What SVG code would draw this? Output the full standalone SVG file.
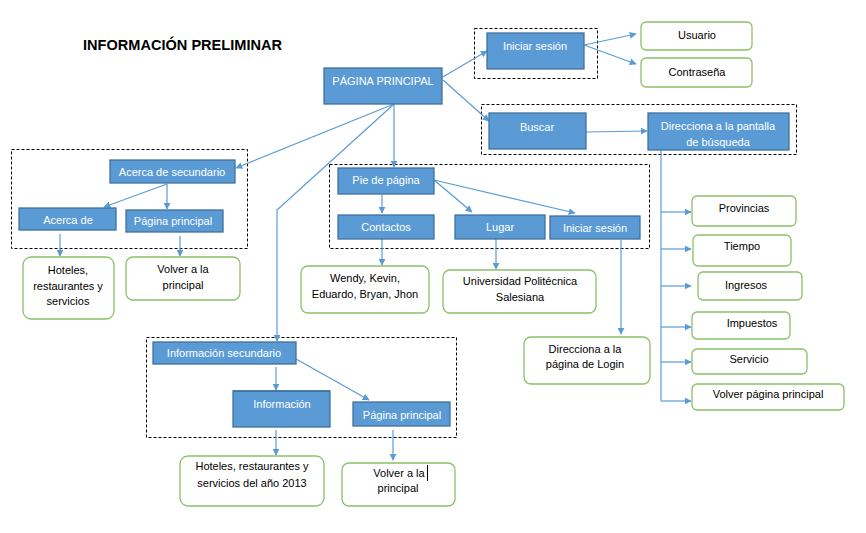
<svg xmlns="http://www.w3.org/2000/svg" width="866" height="533" viewBox="0 0 866 533">
<defs>
<marker id="ah" viewBox="0 0 10 10" refX="9" refY="5" markerWidth="7" markerHeight="7" markerUnits="userSpaceOnUse" orient="auto">
<path d="M0,0 L10,5 L0,10 z" fill="#5B9BD5"/>
</marker>
<style>
.b{fill:#5B9BD5;stroke:#41719C;stroke-width:1.3}
.g{fill:#fff;stroke:#8CC168;stroke-width:1.3}
.d{fill:none;stroke:#000;stroke-width:1;stroke-dasharray:3 2}
.w{fill:#fff;font-family:"Liberation Sans",Arial,sans-serif;font-size:11px;text-anchor:middle;dominant-baseline:central}
.k{fill:#000;font-family:"Liberation Sans",Arial,sans-serif;font-size:11px;text-anchor:middle;dominant-baseline:central}
.c{fill:none;stroke:#5B9BD5;stroke-width:1.2;marker-end:url(#ah)}
.c0{fill:none;stroke:#5B9BD5;stroke-width:1.2}
</style>
</defs>
<rect width="866" height="533" fill="#fff"/>
<text x="83" y="50" font-family="'Liberation Sans',Arial,sans-serif" font-size="15" font-weight="bold" textLength="199" lengthAdjust="spacingAndGlyphs">INFORMACIÓN PRELIMINAR</text>

<g id="groups">
<rect class="d" x="474.5" y="28.5" width="123" height="50"/>
<rect class="d" x="481.5" y="104.5" width="315" height="50"/>
<rect class="d" x="11.5" y="149.5" width="236" height="99"/>
<rect class="d" x="329.5" y="164.5" width="320" height="84"/>
<rect class="d" x="146.5" y="337.5" width="310" height="100"/>
</g>

<g id="connectors">
<path class="c" d="M441,78 L487,51"/>
<path class="c" d="M443,80 L489,121"/>
<path class="c" d="M584,45 L636,34"/>
<path class="c" d="M584,45 L636,64"/>
<path class="c" d="M586,132 L647,131"/>
<path class="c0" d="M661,150 L661,401"/>
<path class="c" d="M661,212 L691,212"/>
<path class="c" d="M661,249 L691,249"/>
<path class="c" d="M661,286 L691,286"/>
<path class="c" d="M661,327 L691,327"/>
<path class="c" d="M661,362 L691,362"/>
<path class="c" d="M661,401 L691,401"/>
<path class="c" d="M394,104 L236,168"/>
<path class="c" d="M394,104 L394,167"/>
<path class="c" d="M394,104 L277,210 L277,341"/>
<path class="c" d="M167,184 L104,207"/>
<path class="c" d="M167,184 L167,209"/>
<path class="c" d="M60,234 L60,256"/>
<path class="c" d="M180,236 L180,256"/>
<path class="c" d="M382,195 L382,213"/>
<path class="c" d="M434,180 L472,212"/>
<path class="c" d="M434,180 L575,213"/>
<path class="c" d="M382,239 L382,265"/>
<path class="c" d="M496,239 L496,269"/>
<path class="c" d="M621,240 L621,334"/>
<path class="c" d="M276,367 L276,390"/>
<path class="c" d="M296,359 L369,400"/>
<path class="c" d="M276,430 L276,455"/>
<path class="c" d="M393,430 L393,460"/>
</g>

<g id="pagina-principal"><rect class="b" x="324" y="68" width="118" height="36"/><text class="w" x="383" y="81">PÁGINA PRINCIPAL</text></g>
<g id="iniciar-sesion"><rect class="b" x="487" y="33" width="97" height="36"/><text class="w" x="535" y="46">Iniciar sesión</text></g>
<g id="usuario"><rect class="g" x="641" y="22" width="111" height="28" rx="5"/><text class="k" x="697" y="35">Usuario</text></g>
<g id="contrasena"><rect class="g" x="641" y="58" width="111" height="29" rx="5"/><text class="k" x="697" y="72">Contraseña</text></g>
<g id="buscar"><rect class="b" x="489" y="113" width="97" height="36"/><text class="w" x="537" y="127">Buscar</text></g>
<g id="direcciona-busqueda"><rect class="b" x="648" y="113" width="141" height="37"/><text class="w" x="718" y="126">Direcciona a la pantalla</text><text class="w" x="718" y="142">de búsqueda</text></g>

<g id="provincias"><rect class="g" x="692" y="196" width="104" height="30" rx="5"/><text class="k" x="744" y="208">Provincias</text></g>
<g id="tiempo"><rect class="g" x="693" y="235" width="98" height="31" rx="5"/><text class="k" x="742" y="246">Tiempo</text></g>
<g id="ingresos"><rect class="g" x="698" y="272" width="104" height="28" rx="5"/><text class="k" x="746" y="285">Ingresos</text></g>
<g id="impuestos"><rect class="g" x="692" y="312" width="98" height="27" rx="5"/><text class="k" x="752" y="323">Impuestos</text></g>
<g id="servicio"><rect class="g" x="692" y="349" width="115" height="25" rx="5"/><text class="k" x="749" y="359">Servicio</text></g>
<g id="volver-pagina"><rect class="g" x="692" y="384" width="152" height="26" rx="5"/><text class="k" x="768" y="394">Volver página principal</text></g>

<g id="acerca-secundario"><rect class="b" x="110" y="160" width="125" height="23"/><text class="w" x="172" y="172">Acerca de secundario</text></g>
<g id="acerca-de"><rect class="b" x="19" y="208" width="97" height="22"/><text class="w" x="68" y="220">Acerca de</text></g>
<g id="pagina-principal-1"><rect class="b" x="126" y="210" width="97" height="22"/><text class="w" x="173" y="221">Página principal</text></g>
<g id="hoteles"><rect class="g" x="23" y="257" width="91" height="62" rx="8"/><text class="k" x="68" y="270">Hoteles,</text><text class="k" x="68" y="286">restaurantes y</text><text class="k" x="68" y="301">servicios</text></g>
<g id="volver-1"><rect class="g" x="126" y="257" width="114" height="43" rx="7"/><text class="k" x="183" y="269">Volver a la</text><text class="k" x="183" y="285">principal</text></g>

<g id="pie-de-pagina"><rect class="b" x="338" y="168" width="96" height="26"/><text class="w" x="386" y="180">Pie de página</text></g>
<g id="contactos"><rect class="b" x="338" y="215" width="96" height="24"/><text class="w" x="386" y="227">Contactos</text></g>
<g id="lugar"><rect class="b" x="455" y="215" width="90" height="24"/><text class="w" x="500" y="227">Lugar</text></g>
<g id="iniciar-sesion-2"><rect class="b" x="550" y="216" width="90" height="23"/><text class="w" x="595" y="228">Iniciar sesión</text></g>
<g id="wendy"><rect class="g" x="301" y="266" width="128" height="47" rx="7"/><text class="k" x="365" y="278">Wendy, Kevin,</text><text class="k" x="365" y="294">Eduardo, Bryan, Jhon</text></g>
<g id="universidad"><rect class="g" x="443" y="270" width="153" height="43" rx="7"/><text class="k" x="520" y="281">Universidad Politécnica</text><text class="k" x="520" y="297">Salesiana</text></g>
<g id="login"><rect class="g" x="524" y="337" width="126" height="47" rx="7"/><text class="k" x="585" y="349">Direcciona a la</text><text class="k" x="585" y="364">página de Login</text></g>

<g id="informacion-secundario"><rect class="b" x="153" y="342" width="143" height="22"/><text class="w" x="224" y="353">Información secundario</text></g>
<g id="informacion"><rect class="b" x="233" y="391" width="97" height="36"/><line x1="233" y1="391" x2="330" y2="391" stroke="#41719C" stroke-width="1.3"/><text class="w" x="282" y="404">Información</text></g>
<g id="pagina-principal-2"><rect class="b" x="353" y="402" width="97" height="24"/><text class="w" x="402" y="415">Página principal</text></g>
<g id="hoteles-2013"><rect class="g" x="180" y="456" width="144" height="50" rx="8"/><text class="k" x="252" y="466">Hoteles, restaurantes y</text><text class="k" x="252" y="483">servicios del año 2013</text></g>
<g id="volver-2"><rect class="g" x="342" y="463" width="113" height="43" rx="7"/><text class="k" x="399" y="473">Volver a la</text><text class="k" x="398" y="488">principal</text><line x1="427.5" y1="465" x2="427.5" y2="481" stroke="#000" stroke-width="1"/></g>
</svg>
